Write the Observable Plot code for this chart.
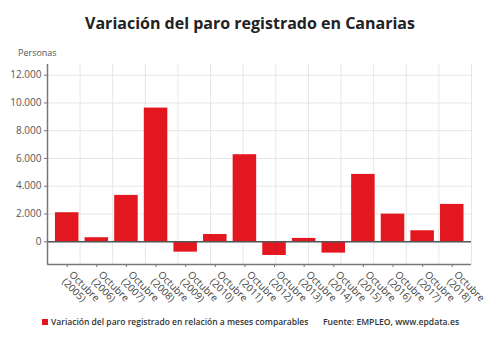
<!DOCTYPE html>
<html>
<head>
<meta charset="utf-8">
<script src="https://cdn.jsdelivr.net/npm/d3@7"></script>
<script src="https://cdn.jsdelivr.net/npm/@observablehq/plot@0.6"></script>
<style>
  html, body { margin: 0; padding: 0; background: #fff; }
  body { width: 500px; height: 337px; position: relative; overflow: hidden; font-family: "Open Sans", sans-serif; }
  #title { position: absolute; top: 12px; left: 0; width: 500px; text-align: center; font-size: 16px; font-weight: 700; color: #222; }
  #unit { position: absolute; top: 46px; left: 18px; font-size: 9px; color: #555; }
  #chart { position: absolute; top: 40px; left: 0; }
  #legend { position: absolute; top: 316px; left: 42px; font-size: 8.5px; font-weight: 600; color: #333; white-space: nowrap; }
  #legend .sw { display: inline-block; width: 6px; height: 6px; background: #e3171f; margin-right: 3px; vertical-align: 0px; }
  #source { position: absolute; top: 316px; left: 323px; font-size: 8.6px; font-weight: 600; color: #333; white-space: nowrap; }
</style>
</head>
<body>
<div id="title">Variación del paro registrado en Canarias</div>
<div id="unit">Personas</div>
<div id="chart"></div>
<div id="legend"><span class="sw"></span>Variación del paro registrado en relación a meses comparables</div>
<div id="source">Fuente: EMPLEO, www.epdata.es</div>
<script>
const years = ["2005","2006","2007","2008","2009","2010","2011","2012","2013","2014","2015","2016","2017","2018"];
const values = [2090, 290, 3340, 9630, -750, 520, 6270, -990, 240, -820, 4850, 1990, 790, 2690];
const yTicks = [0, 2000, 4000, 6000, 8000, 10000, 12000];

const data = years.map((y, i) => ({i, year: y, value: values[i]}));
const xDomain = [-0.665, 13.65];
const half = 0.397;
const gridX = d3.range(1, 14).map(k => xDomain[0] + k * (xDomain[1] - xDomain[0]) / 13);
const fmt = d => d3.format(",")(d).replace(/,/g, ".");

const chart = Plot.plot({
  width: 500,
  height: 270,
  marginTop: 24,
  marginBottom: 46,
  marginLeft: 47,
  marginRight: 29,
  style: {fontFamily: "Open Sans, sans-serif", fontSize: "10px", color: "#555", background: "transparent"},
  x: {type: "linear", domain: xDomain},
  y: {domain: [-1640, 12770]},
  marks: [
    Plot.ruleY(yTicks, {y: d => d, stroke: "#e6e6e6", strokeWidth: 1}),
    Plot.ruleX(gridX, {x: d => d, stroke: "#e6e6e6", strokeWidth: 1}),
    Plot.rectY(data, {x1: d => d.i - half, x2: d => d.i + half, y1: 0, y2: "value", fill: "#e3171f"}),
    Plot.ruleY([0], {stroke: "#555", strokeWidth: 1.5}),
    Plot.axisY({ticks: yTicks, tickFormat: fmt, tickSize: 3, tickPadding: 3, label: null, stroke: "#777", fill: "#555", fontSize: 10}),
    Plot.axisX({ticks: d3.range(years.length), tickFormat: i => `Octubre\n(${years[i]})`, tickRotate: 45, tickSize: 3, tickPadding: 9, label: null, stroke: "#777", fill: "#444", fontSize: 10}),
    Plot.ruleX([xDomain[0]], {stroke: "#777", strokeWidth: 1.5}),
    Plot.ruleY([-1640], {stroke: "#777", strokeWidth: 1.5})
  ]
});
document.getElementById("chart").appendChild(chart);
</script>
</body>
</html>
